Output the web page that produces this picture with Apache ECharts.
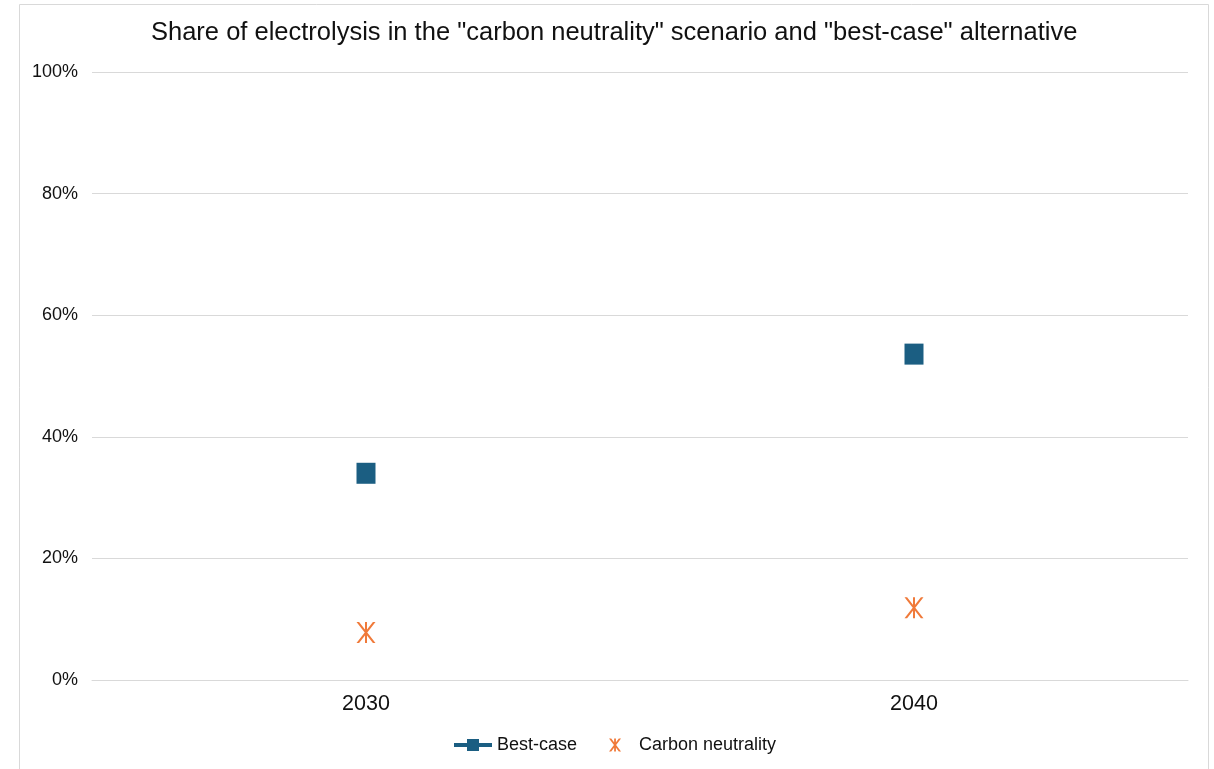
<!DOCTYPE html>
<html>
<head>
<meta charset="utf-8">
<style>
  html, body { margin: 0; padding: 0; background: #fff; }
  #chart { width: 1214px; height: 769px; }
</style>
<script src="https://cdn.jsdelivr.net/npm/echarts@6/dist/echarts.min.js"></script>
</head>
<body>
<div id="chart"></div>
<script>
// Years on the category axis
const years = ['2030', '2040'];
// Share of electrolysis (%)
const bestCase = [34, 53.6];
const carbonNeutrality = [7.8, 11.9];
// Value axis ticks (%)
const yTicks = [0, 20, 40, 60, 80, 100];

const FONT = '"Liberation Sans", Arial, sans-serif';
const BLUE = '#1b5e82';
const ORANGE = '#f07a3a';

// asterisk made of three thick strokes (two diagonals and a vertical bar)
function asteriskPath(w, h, t, tv) {
  return 'path://' +
    `M0,0L${t},0L${w},${h}L${w - t},${h}Z` +
    `M${w - t},0L${w},0L${t},${h}L0,${h}Z` +
    `M${(w - tv) / 2},0L${(w + tv) / 2},0L${(w + tv) / 2},${h}L${(w - tv) / 2},${h}Z`;
}
const asterisk = asteriskPath(19, 21, 2.6, 2);
const asteriskIcon = asteriskPath(12, 13, 2.2, 1.8);
// line with square, used as legend icon
const lineSquare = 'path://M0,4L13,4L13,0L25,0L25,4L38,4L38,8L25,8L25,12L13,12L13,8L0,8Z';

const chart = echarts.init(document.getElementById('chart'));
chart.setOption({
  animation: false,
  backgroundColor: '#fff',
  textStyle: { fontFamily: FONT },
  graphic: [{
    type: 'rect',
    shape: { x: 19.5, y: 4.5, width: 1189, height: 800 },
    style: { fill: 'none', stroke: '#d9d9d9', lineWidth: 1 },
    silent: true
  }],
  title: {
    text: 'Share of electrolysis in the "carbon neutrality" scenario and "best-case" alternative',
    left: 146,
    top: 15,
    textStyle: { fontFamily: FONT, fontSize: 25.5, fontWeight: 'normal', color: '#111' }
  },
  grid: { left: 92, right: 26, top: 72, bottom: 89 },
  xAxis: {
    type: 'category',
    data: years,
    axisLine: { lineStyle: { color: '#d9d9d9', width: 1 } },
    axisTick: { show: false },
    axisLabel: { fontFamily: FONT, fontSize: 21.5, color: '#111', margin: 13 }
  },
  yAxis: {
    type: 'value',
    min: yTicks[0],
    max: yTicks[yTicks.length - 1],
    interval: yTicks[1] - yTicks[0],
    axisLine: { show: false },
    axisTick: { show: false },
    splitLine: { lineStyle: { color: '#d9d9d9', width: 1 } },
    axisLabel: { fontFamily: FONT, fontSize: 18, color: '#111', margin: 14, formatter: '{value}%' }
  },
  legend: {
    bottom: 10,
    left: 449,
    itemGap: 32,
    itemWidth: 38,
    itemHeight: 13,
    textStyle: { fontFamily: FONT, fontSize: 18, color: '#111' },
    data: [
      { name: 'Best-case', icon: lineSquare, itemStyle: { color: BLUE } },
      { name: 'Carbon neutrality', icon: asteriskIcon, itemStyle: { color: ORANGE } }
    ]
  },
  series: [
    {
      name: 'Best-case',
      type: 'scatter',
      data: bestCase,
      symbol: 'rect',
      symbolSize: [19, 21],
      itemStyle: { color: BLUE, opacity: 1 }
    },
    {
      name: 'Carbon neutrality',
      type: 'scatter',
      data: carbonNeutrality,
      symbol: asterisk,
      symbolSize: [19, 21],
      itemStyle: { color: ORANGE, opacity: 1 }
    }
  ]
});
</script>
</body>
</html>
